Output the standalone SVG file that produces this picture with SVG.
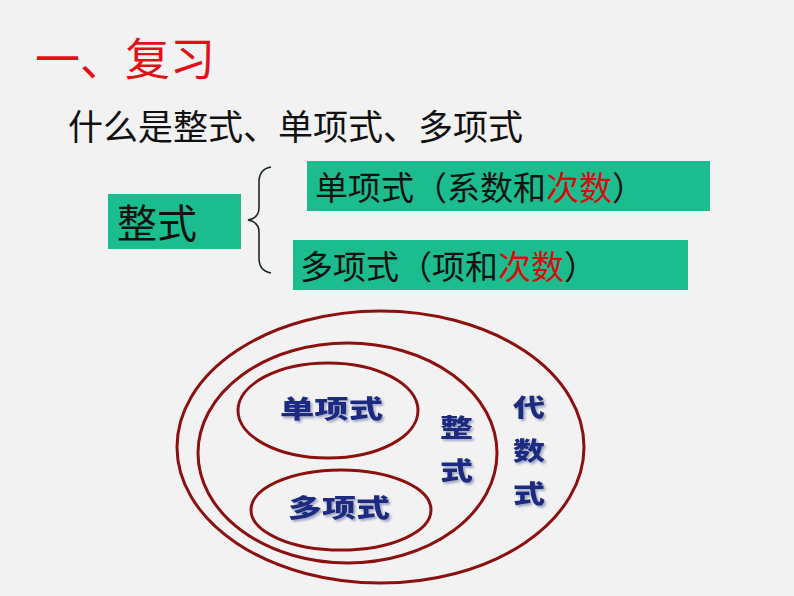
<svg xmlns="http://www.w3.org/2000/svg" width="794" height="596" viewBox="0 0 794 596">
<defs>
<filter id="shadow" x="-20%" y="-20%" width="140%" height="140%">
<feDropShadow dx="2" dy="2" stdDeviation="1.2" flood-color="#7f89b3" flood-opacity="0.7"/>
</filter>
</defs>
<style>
.cn{font-family:"Noto Sans CJK SC","Noto Sans",sans-serif;}
.box{fill:#1bbd8f;}
.red{fill:#d80c0c;}
.blk{fill:#111;}
.ell{fill:none;stroke:#8b1111;stroke-width:3;}
.lab{font-family:"Noto Sans CJK SC",sans-serif;font-weight:900;fill:#1c2a80;filter:url(#shadow);}
</style>
<rect width="794" height="596" fill="#f2f2f2"/>
<g id="title"><text class="cn" x="35" y="76" font-size="45" fill="#e30f16">一、复习</text></g>
<g id="subtitle"><text class="cn blk" x="68" y="140" font-size="35">什么是整式、单项式、多项式</text></g>
<g id="zhengshi-box"><rect class="box" x="108" y="194" width="133" height="55"/><text class="cn blk" x="117" y="238" font-size="40">整式</text></g>
<g id="danxiangshi-box"><rect class="box" x="307" y="161" width="403" height="50"/><text class="cn blk" x="315" y="200" font-size="33">单项式（系数和<tspan class="red">次数</tspan>）</text></g>
<g id="duoxiangshi-box"><rect class="box" x="293" y="240" width="395" height="50"/><text class="cn blk" x="300" y="279" font-size="33">多项式（项和<tspan class="red">次数</tspan>）</text></g>
<g id="connectors">
<path d="M271,167 Q259,169 259,182 L259,208 Q259,218 248,220 Q259,222 259,232 L259,258 Q259,271 271,273" fill="none" stroke="#1a2a22" stroke-width="1.6"/>
</g>
<g id="daishushi-ellipse"><ellipse class="ell" cx="380.5" cy="447" rx="203.5" ry="136"/></g>
<g id="zhengshi-ellipse"><ellipse class="ell" cx="347.5" cy="453" rx="149.5" ry="110"/></g>
<g id="danxiangshi-ellipse"><ellipse class="ell" cx="328" cy="410.5" rx="90" ry="47.5"/>
<text class="lab" x="280" y="418" font-size="25" textLength="103" lengthAdjust="spacingAndGlyphs">单项式</text></g>
<g id="duoxiangshi-ellipse"><ellipse class="ell" cx="341" cy="510" rx="90" ry="40"/>
<text class="lab" x="288" y="517" font-size="25" textLength="102" lengthAdjust="spacingAndGlyphs">多项式</text></g>
<g id="zhengshi-label">
<text class="lab" x="440" y="437" font-size="25" textLength="33" lengthAdjust="spacingAndGlyphs">整</text>
<text class="lab" x="440" y="480" font-size="25" textLength="33" lengthAdjust="spacingAndGlyphs">式</text>
</g>
<g id="daishushi-label">
<text class="lab" x="513" y="417" font-size="25" textLength="32" lengthAdjust="spacingAndGlyphs">代</text>
<text class="lab" x="513" y="460" font-size="25" textLength="32" lengthAdjust="spacingAndGlyphs">数</text>
<text class="lab" x="513" y="503" font-size="25" textLength="32" lengthAdjust="spacingAndGlyphs">式</text>
</g>
</svg>
